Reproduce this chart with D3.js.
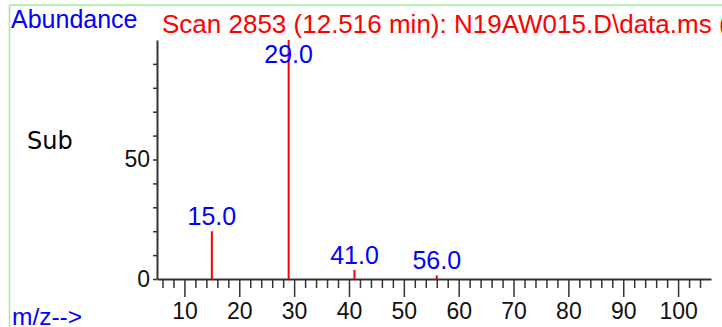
<!DOCTYPE html>
<html>
<head>
<meta charset="utf-8">
<script src="https://cdn.jsdelivr.net/npm/d3@7"></script>
<style>
  body { margin: 0; background: #fff; }
  svg { display: block; }
  .tick text { font-family: "Liberation Sans", Arial, sans-serif; fill: #111; }
</style>
</head>
<body>
<svg id="chart" width="722" height="327"></svg>
<script>
// spectrum peaks
const mz = [15, 29, 41, 56];
const abundance = [20, 100, 3.8, 1.5];
const peakLabels = ["15.0", "29.0", "41.0", "56.0"];

// axis ticks
const xMajor = [10, 20, 30, 40, 50, 60, 70, 80, 90, 100];
const xMinor = d3.range(6, 106, 2).filter(v => v % 10 != 0);
const yTicks = [0, 10, 20, 30, 40, 50, 60, 70, 80, 90];
const yLabels = [0, 50];

const title = "Scan 2853 (12.516 min): N19AW015.D\\data.ms (";

let svg = d3.select('#chart');

let x = d3.scaleLinear().domain([5, 106]).range([157, 711]);
let y = d3.scaleLinear().domain([0, 100]).range([279, 40]);

// green frame
svg.append('line')
  .attr('x1', 9.5).attr('y1', 5).attr('x2', 722).attr('y2', 5)
  .attr('stroke', '#99ee99').attr('stroke-width', 1.5);
svg.append('line')
  .attr('x1', 9.5).attr('y1', 5).attr('x2', 9.5).attr('y2', 327)
  .attr('stroke', '#99ee99').attr('stroke-width', 1.5);

// minor ticks on x
svg.append('g')
  .attr('transform', 'translate(0,279)')
  .call(d3.axisBottom(x).tickValues(xMinor).tickSize(9).tickSizeOuter(0).tickFormat(''))
  .call(g => g.select('.domain').remove());

// major ticks with labels
let xAxis = svg.append('g')
  .attr('transform', 'translate(0,279)')
  .call(d3.axisBottom(x).tickValues(xMajor).tickSize(18).tickSizeOuter(0).tickPadding(6));

let yAxis = svg.append('g')
  .attr('transform', 'translate(157,0)')
  .call(d3.axisLeft(y).tickValues(yTicks).tickSize(4).tickSizeOuter(0)
    .tickFormat(d => yLabels.includes(d) ? d : ''));

[xAxis, yAxis].forEach(a => {
  a.selectAll('path, line').attr('stroke', '#333').attr('stroke-width', 2);
  a.selectAll('text').attr('font-size', 23);
});
svg.selectAll('.tick line').attr('stroke', '#333').attr('stroke-width', 1.5);

// peaks
svg.selectAll('.peak')
  .data(mz)
  .enter().append('line')
  .attr('class', 'peak')
  .attr('x1', d => x(d)).attr('x2', d => x(d))
  .attr('y1', y(0))
  .attr('y2', (d, i) => y(abundance[i]))
  .attr('stroke', 'red')
  .attr('stroke-width', 2);

svg.selectAll('.plabel')
  .data(mz)
  .enter().append('text')
  .attr('class', 'plabel')
  .attr('x', d => x(d))
  .attr('y', (d, i) => Math.max(y(abundance[i]) - 6, y(90) - 1))
  .attr('text-anchor', 'middle')
  .attr('font-family', '"Liberation Sans", Arial, sans-serif')
  .attr('font-size', 25)
  .attr('fill', 'blue')
  .text((d, i) => peakLabels[i]);

// texts
svg.append('text')
  .attr('x', 11).attr('y', 28)
  .attr('font-family', '"Liberation Sans", Arial, sans-serif')
  .attr('font-size', 25)
  .attr('fill', 'blue')
  .text('Abundance');

svg.append('text')
  .attr('x', 162).attr('y', 33)
  .attr('font-family', '"Liberation Sans", Arial, sans-serif')
  .attr('font-size', 26)
  .attr('fill', 'red')
  .text(title);

svg.append('text')
  .attr('x', 27).attr('y', 149)
  .attr('font-family', '"DejaVu Sans", sans-serif')
  .attr('font-size', 24)
  .attr('fill', 'black')
  .text('Sub');

svg.append('text')
  .attr('x', 12).attr('y', 325)
  .attr('font-family', '"Liberation Sans", Arial, sans-serif')
  .attr('font-size', 24.5)
  .attr('fill', 'blue')
  .text('m/z-->');
</script>
</body>
</html>
